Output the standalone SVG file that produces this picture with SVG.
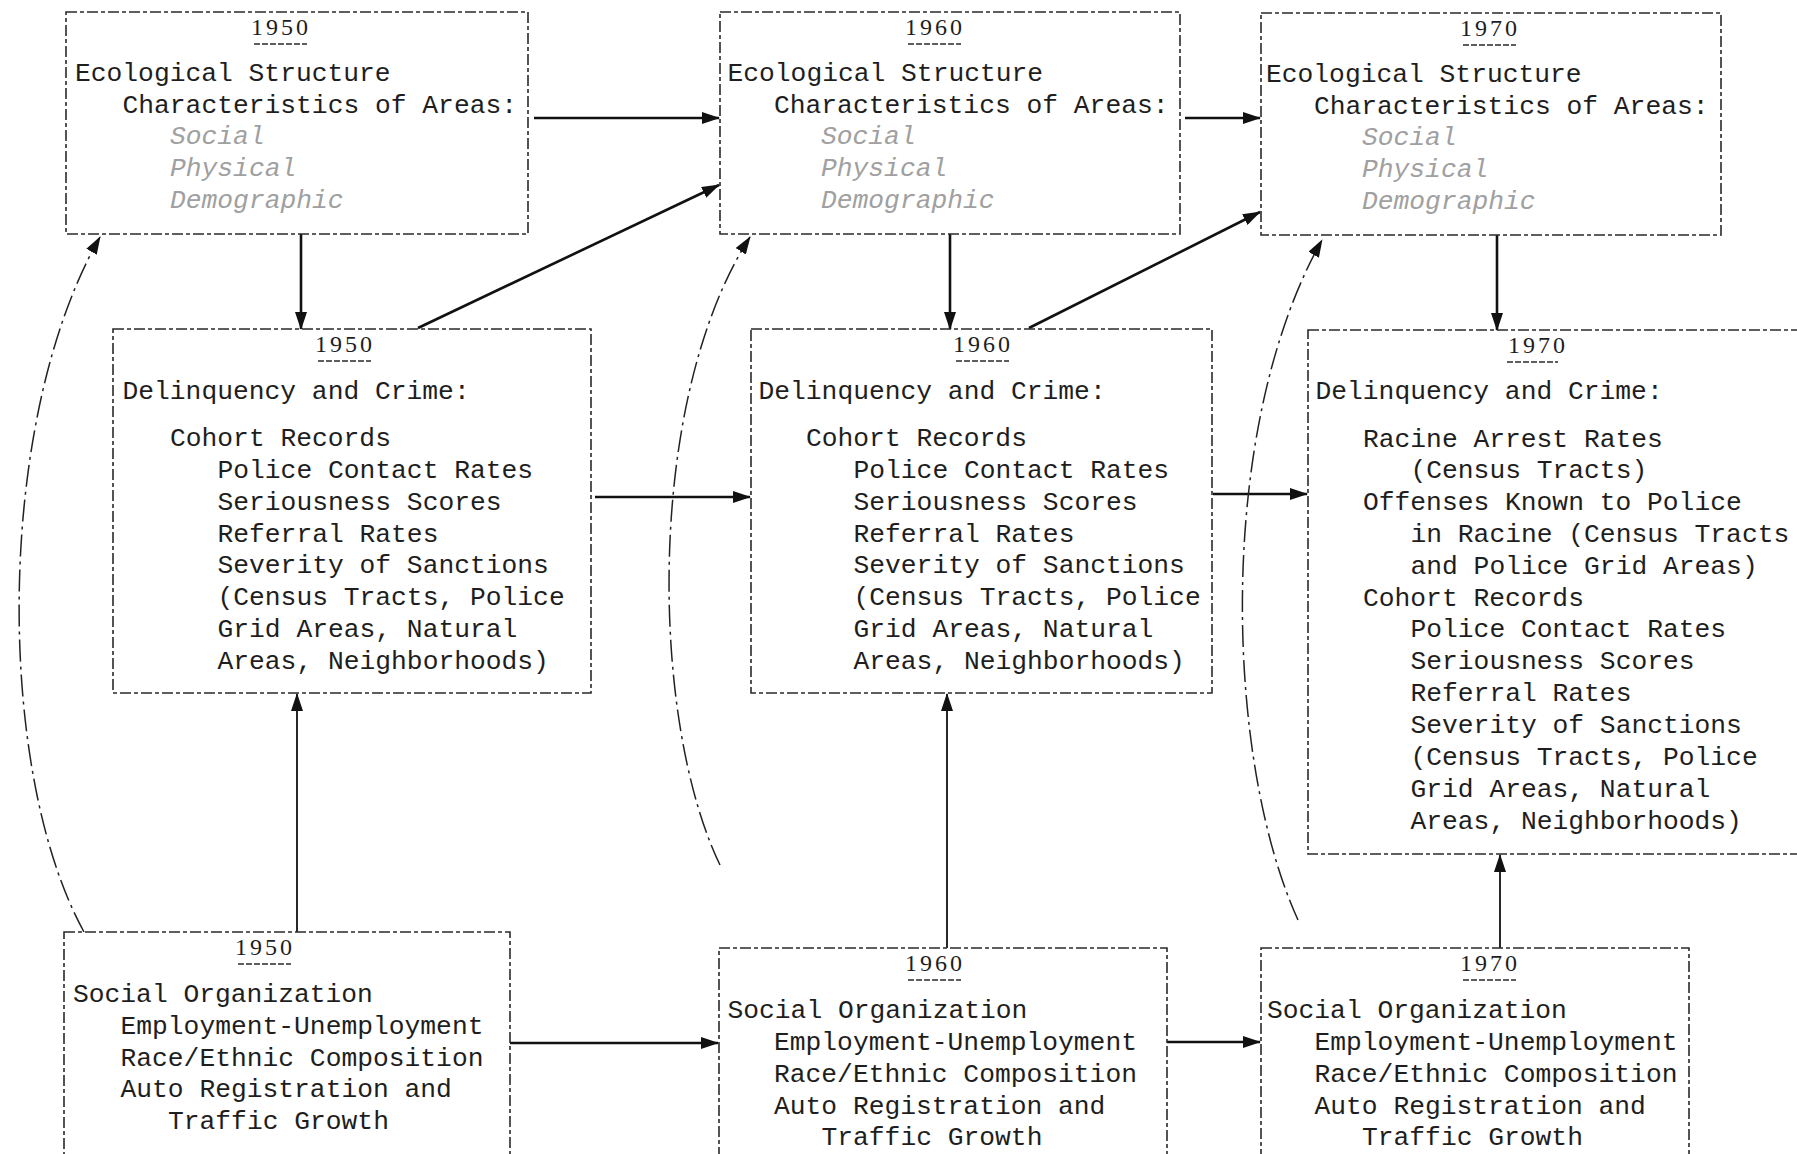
<svg xmlns="http://www.w3.org/2000/svg" width="1797" height="1154" viewBox="0 0 1797 1154">
<style>
.box{fill:none;stroke:#2a2a2a;stroke-width:1.6;stroke-dasharray:11 3 4 3}
.t{font-family:"Liberation Mono",monospace;font-size:26.3px;fill:#1e1e1e}
.it{font-style:italic;fill:#a0a0a0}
.yr{font-family:"Liberation Serif",serif;font-size:24px;letter-spacing:3px;text-anchor:middle;fill:#1e1e1e}
.ul{stroke:#2a2a2a;stroke-width:1.6;stroke-dasharray:6 2}
.c{fill:none;stroke:#111;stroke-width:2.6}
.cv{fill:none;stroke:#111;stroke-width:1.8}
.cd{fill:none;stroke:#222;stroke-width:1.5;stroke-dasharray:22 5 3 5}
</style>
<defs>
<marker id="ah" markerUnits="userSpaceOnUse" markerWidth="18" markerHeight="12" viewBox="0 0 18 12" refX="17" refY="6" orient="auto">
<path d="M0,0 L18,6 L0,12 z" fill="#111"/>
</marker>
</defs>
<rect width="1797" height="1154" fill="#ffffff"/>

<g id="connectors">
<line class="c" x1="534" y1="118" x2="719" y2="118" marker-end="url(#ah)"/>
<line class="c" x1="1185" y1="118" x2="1260" y2="118" marker-end="url(#ah)"/>
<line class="c" x1="301" y1="234" x2="301" y2="329" marker-end="url(#ah)"/>
<line class="c" x1="950" y1="234" x2="950" y2="329" marker-end="url(#ah)"/>
<line class="c" x1="1497" y1="235" x2="1497" y2="330" marker-end="url(#ah)"/>
<line class="c" x1="418" y1="328" x2="719" y2="185" marker-end="url(#ah)"/>
<line class="c" x1="1029" y1="328" x2="1260" y2="212" marker-end="url(#ah)"/>
<line class="c" x1="595" y1="497" x2="750" y2="497" marker-end="url(#ah)"/>
<line class="c" x1="1213" y1="494" x2="1307" y2="494" marker-end="url(#ah)"/>
<line class="cv" x1="297" y1="932" x2="297" y2="694" marker-end="url(#ah)"/>
<line class="cv" x1="947" y1="948" x2="947" y2="694" marker-end="url(#ah)"/>
<line class="cv" x1="1500" y1="948" x2="1500" y2="855" marker-end="url(#ah)"/>
<line class="c" x1="510" y1="1043" x2="718" y2="1043" marker-end="url(#ah)"/>
<line class="c" x1="1167" y1="1042" x2="1260" y2="1042" marker-end="url(#ah)"/>
<path class="cd" d="M84,932 C-5,770 -5,420 100,237" marker-end="url(#ah)"/>
<path class="cd" d="M720,865 C650,720 645,400 750,237" marker-end="url(#ah)"/>
<path class="cd" d="M1298,920 C1225,760 1215,430 1322,240" marker-end="url(#ah)"/>
</g>

<g id="eco1950">
<rect class="box" x="66" y="12" width="462" height="222"/>
<text class="yr" x="281" y="35">1950</text>
<line class="ul" x1="254" y1="44" x2="307" y2="44"/>
<text class="t" x="75" y="81">Ecological Structure</text>
<text class="t" x="122.5" y="113">Characteristics of Areas:</text>
<text class="t it" x="170" y="144">Social</text>
<text class="t it" x="170" y="176">Physical</text>
<text class="t it" x="170" y="208">Demographic</text>
</g>

<g id="eco1960">
<rect class="box" x="720" y="12" width="460" height="222"/>
<text class="yr" x="935" y="35">1960</text>
<line class="ul" x1="908" y1="44" x2="961" y2="44"/>
<text class="t" x="727.5" y="81">Ecological Structure</text>
<text class="t" x="774" y="113">Characteristics of Areas:</text>
<text class="t it" x="821" y="144">Social</text>
<text class="t it" x="821" y="176">Physical</text>
<text class="t it" x="821" y="208">Demographic</text>
</g>

<g id="eco1970">
<rect class="box" x="1261" y="13" width="460" height="222"/>
<text class="yr" x="1490" y="36">1970</text>
<line class="ul" x1="1463" y1="45" x2="1516" y2="45"/>
<text class="t" x="1266" y="82">Ecological Structure</text>
<text class="t" x="1314" y="114">Characteristics of Areas:</text>
<text class="t it" x="1362" y="145">Social</text>
<text class="t it" x="1362" y="177">Physical</text>
<text class="t it" x="1362" y="209">Demographic</text>
</g>

<g id="del1950">
<rect class="box" x="113" y="329" width="478" height="364"/>
<text class="yr" x="345" y="352">1950</text>
<line class="ul" x1="318" y1="361" x2="371" y2="361"/>
<text class="t" x="122.5" y="399">Delinquency and Crime:</text>
<text class="t" x="170" y="446">Cohort Records</text>
<text class="t" x="217.5" y="478">Police Contact Rates</text>
<text class="t" x="217.5" y="510">Seriousness Scores</text>
<text class="t" x="217.5" y="542">Referral Rates</text>
<text class="t" x="217.5" y="573">Severity of Sanctions</text>
<text class="t" x="217.5" y="605">(Census Tracts, Police</text>
<text class="t" x="217.5" y="637">Grid Areas, Natural</text>
<text class="t" x="217.5" y="669">Areas, Neighborhoods)</text>
</g>

<g id="del1960">
<rect class="box" x="751" y="329" width="461" height="364"/>
<text class="yr" x="983" y="352">1960</text>
<line class="ul" x1="956" y1="361" x2="1009" y2="361"/>
<text class="t" x="758.5" y="399">Delinquency and Crime:</text>
<text class="t" x="806" y="446">Cohort Records</text>
<text class="t" x="853.5" y="478">Police Contact Rates</text>
<text class="t" x="853.5" y="510">Seriousness Scores</text>
<text class="t" x="853.5" y="542">Referral Rates</text>
<text class="t" x="853.5" y="573">Severity of Sanctions</text>
<text class="t" x="853.5" y="605">(Census Tracts, Police</text>
<text class="t" x="853.5" y="637">Grid Areas, Natural</text>
<text class="t" x="853.5" y="669">Areas, Neighborhoods)</text>
</g>

<g id="del1970">
<rect class="box" x="1308" y="330" width="520" height="524"/>
<text class="yr" x="1538" y="353">1970</text>
<line class="ul" x1="1507" y1="362" x2="1558" y2="362"/>
<text class="t" x="1315.5" y="399">Delinquency and Crime:</text>
<text class="t" x="1363" y="447">Racine Arrest Rates</text>
<text class="t" x="1410.5" y="478">(Census Tracts)</text>
<text class="t" x="1363" y="510">Offenses Known to Police</text>
<text class="t" x="1410.5" y="542">in Racine (Census Tracts</text>
<text class="t" x="1410.5" y="574">and Police Grid Areas)</text>
<text class="t" x="1363" y="606">Cohort Records</text>
<text class="t" x="1410.5" y="637">Police Contact Rates</text>
<text class="t" x="1410.5" y="669">Seriousness Scores</text>
<text class="t" x="1410.5" y="701">Referral Rates</text>
<text class="t" x="1410.5" y="733">Severity of Sanctions</text>
<text class="t" x="1410.5" y="765">(Census Tracts, Police</text>
<text class="t" x="1410.5" y="797">Grid Areas, Natural</text>
<text class="t" x="1410.5" y="829">Areas, Neighborhoods)</text>
</g>

<g id="soc1950">
<rect class="box" x="64" y="932" width="446" height="240"/>
<text class="yr" x="265" y="955">1950</text>
<line class="ul" x1="238" y1="964" x2="291" y2="964"/>
<text class="t" x="73" y="1002">Social Organization</text>
<text class="t" x="120.5" y="1034">Employment-Unemployment</text>
<text class="t" x="120.5" y="1066">Race/Ethnic Composition</text>
<text class="t" x="120.5" y="1097">Auto Registration and</text>
<text class="t" x="168" y="1129">Traffic Growth</text>
</g>

<g id="soc1960">
<rect class="box" x="719" y="948" width="448" height="224"/>
<text class="yr" x="935" y="971">1960</text>
<line class="ul" x1="908" y1="980" x2="961" y2="980"/>
<text class="t" x="727.5" y="1018">Social Organization</text>
<text class="t" x="774" y="1050">Employment-Unemployment</text>
<text class="t" x="774" y="1082">Race/Ethnic Composition</text>
<text class="t" x="774" y="1114">Auto Registration and</text>
<text class="t" x="821.5" y="1145">Traffic Growth</text>
</g>

<g id="soc1970">
<rect class="box" x="1261" y="948" width="428" height="224"/>
<text class="yr" x="1490" y="971">1970</text>
<line class="ul" x1="1463" y1="980" x2="1516" y2="980"/>
<text class="t" x="1267" y="1018">Social Organization</text>
<text class="t" x="1314.5" y="1050">Employment-Unemployment</text>
<text class="t" x="1314.5" y="1082">Race/Ethnic Composition</text>
<text class="t" x="1314.5" y="1114">Auto Registration and</text>
<text class="t" x="1362" y="1145">Traffic Growth</text>
</g>
</svg>
